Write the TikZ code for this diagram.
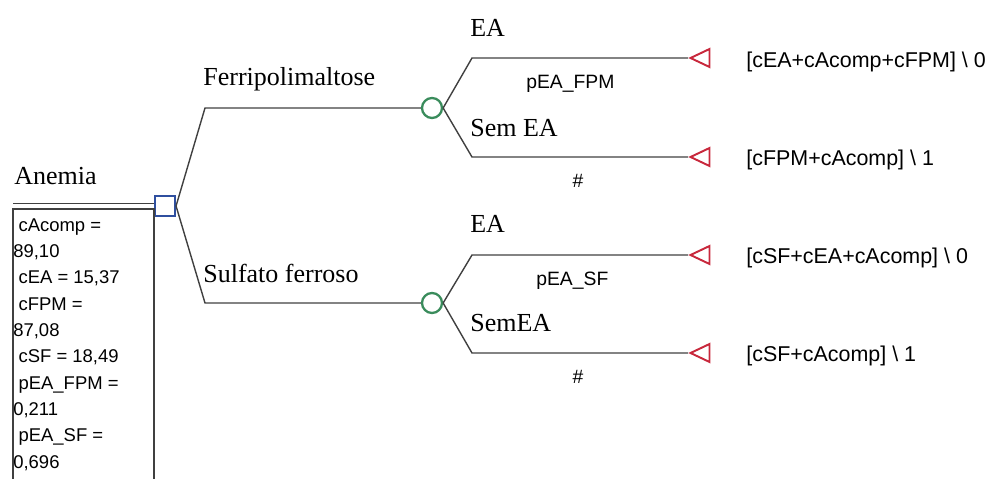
\documentclass[tikz,border=0pt]{standalone}
\usepackage{fontspec}
\setmainfont{Liberation Serif}
\setsansfont{Liberation Sans}
\usetikzlibrary{shapes.geometric}
\definecolor{decblue}{HTML}{2F4F9F}
\definecolor{chancegreen}{HTML}{3A8C5C}
\definecolor{endred}{HTML}{C8283C}
\definecolor{linegray}{HTML}{404040}

\begin{document}
\begin{tikzpicture}[x=0.02cm, y=-0.02cm,
	branch/.style={draw=linegray, line width=0.8pt},
	decision node/.style={rectangle, draw=decblue, line width=1.2pt, fill=white, minimum size=0.4cm, inner sep=0pt},
	chance node/.style={circle, draw=chancegreen, line width=1.3pt, fill=white, minimum size=0.4cm, inner sep=0pt},
	end node/.style={isosceles triangle, isosceles triangle stretches, shape border rotate=180, draw=endred, line width=1.1pt, minimum width=0.36cm, minimum height=0.38cm, inner sep=0pt, anchor=apex},
	branch label/.style={font=\fontsize{14.8}{17}\selectfont, inner sep=0pt, anchor=base west},
	prob label/.style={font=\sffamily\fontsize{11}{13}\selectfont, inner sep=0pt},
	payoff label/.style={font=\sffamily\fontsize{12.2}{14}\selectfont, inner sep=0pt, anchor=west}]
	
	\useasboundingbox (0,0) rectangle (991,479);
	
	% nodes
	\node[decision node] (1) at (165,206) {};
	\node[chance node] (2) at (432,108) {};
	\node[chance node] (3) at (432,303) {};
	\node[end node] (4) at (688,58) {};
	\node[end node] (5) at (688,157) {};
	\node[end node] (6) at (688,255) {};
	\node[end node] (7) at (688,353) {};
	
	\coordinate (c1) at (205,108);
	\coordinate (c2) at (205,303);
	\coordinate (c3) at (472,58);
	\coordinate (c4) at (472,157);
	\coordinate (c5) at (472,255);
	\coordinate (c6) at (472,353);
	\coordinate (boxtop) at (13,206);
	
	% variables box
	\draw[linegray, line width=0.7pt] (13,485) -- (13,209) -- (154,209) -- (154,485);
	\draw[linegray, line width=0.6pt, double, double distance=1.8pt] (boxtop) -- (1.west);
	\node[font=\sffamily\fontsize{10.5}{15}\selectfont, align=left, inner sep=0pt, anchor=north west] (vars) at (13,218)
	{\hspace{3pt}cAcomp =\\89,10\\\hspace{3pt}cEA = 15,37\\\hspace{3pt}cFPM =\\87,08\\\hspace{3pt}cSF = 18,49\\\hspace{3pt}pEA\_FPM =\\0,211\\\hspace{3pt}pEA\_SF =\\0,696};
	
	% branches
	\draw[branch] (1.east) -- (c1) -- (2.west);
	\draw[branch] (1.east) -- (c2) -- (3.west);
	\draw[branch] (2.east) -- (c3) -- (4.apex);
	\draw[branch] (2.east) -- (c4) -- (5.apex);
	\draw[branch] (3.east) -- (c5) -- (6.apex);
	\draw[branch] (3.east) -- (c6) -- (7.apex);
	
	% labels
	\node[branch label] (l1) at (14,185) {Anemia};
	\node[branch label] (l2) at (203,86) {Ferripolimaltose};
	\node[branch label] (l3) at (203,283) {Sulfato ferroso};
	\node[branch label] (l4) at (470,37) {EA};
	\node[branch label] (l5) at (470,137) {Sem EA};
	\node[branch label] (l6) at (470,233) {EA};
	\node[branch label] (l7) at (470,332) {SemEA};
	
	\node[prob label, anchor=west] (p1) at (526,84) {pEA\_FPM};
	\node[prob label] (p2) at (578,181) {\#};
	\node[prob label, anchor=west] (p3) at (536,281) {pEA\_SF};
	\node[prob label] (p4) at (578,377) {\#};
	
	\node[payoff label] (v1) at (746,62) {[cEA+cAcomp+cFPM] \textbackslash{} 0};
	\node[payoff label] (v2) at (746,160) {[cFPM+cAcomp] \textbackslash{} 1};
	\node[payoff label] (v3) at (746,258) {[cSF+cEA+cAcomp] \textbackslash{} 0};
	\node[payoff label] (v4) at (746,356) {[cSF+cAcomp] \textbackslash{} 1};
\end{tikzpicture}
\end{document}
